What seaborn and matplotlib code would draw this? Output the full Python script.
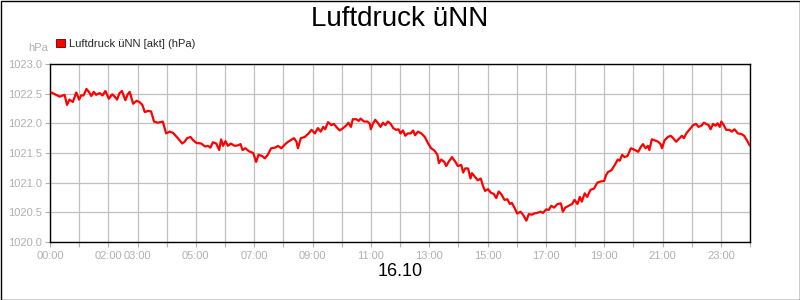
import matplotlib
matplotlib.use("Agg")
import matplotlib.pyplot as plt
import seaborn as sns
import pandas as pd
from matplotlib.patches import Patch, Rectangle

# ---- data (minutes after midnight, hPa) ----
minutes = [3, 10, 20, 30, 35, 40, 47, 54, 60, 64, 69, 75, 80, 85, 90, 95, 102, 108, 114, 121,
           128, 133, 138, 143, 148, 155, 160, 164, 171, 178, 184, 190, 195, 202, 208, 214, 222, 232, 239, 246,
           253, 263, 272, 277, 282, 289, 294, 301, 311, 319, 325, 330, 335, 342, 348, 352, 356, 361, 366, 372,
           380, 387, 392, 396, 402, 409, 418, 424, 429, 436, 442, 448, 455, 463, 469, 476, 484, 490, 496, 502,
           507, 510, 516, 524, 532, 538, 545, 551, 557, 562, 566, 572, 579, 584, 589, 596, 603, 609, 614, 619,
           623, 630, 635, 639, 646, 653, 658, 660, 664, 669, 675, 680, 685, 690, 695, 701, 706, 712, 717, 721,
           726, 731, 736, 742, 747, 751, 757, 764, 771, 778, 784, 791, 797, 800, 805, 811, 815, 820, 827, 834,
           839, 846, 850, 854, 860, 865, 868, 874, 880, 886, 891, 895, 901, 907, 913, 918, 923, 928, 935, 941,
           946, 950, 956, 961, 968, 973, 980, 985, 991, 996, 1002, 1009, 1014, 1021, 1026, 1031, 1037, 1044, 1051, 1055,
           1060, 1067, 1074, 1079, 1085, 1090, 1094, 1100, 1105, 1112, 1119, 1126, 1133, 1140, 1144, 1148, 1155, 1162, 1168, 1172,
           1177, 1182, 1188, 1195, 1201, 1210, 1216, 1220, 1225, 1230, 1233, 1238, 1245, 1251, 1256, 1259, 1264, 1271, 1277, 1282,
           1288, 1295, 1300, 1304, 1309, 1316, 1323, 1329, 1334, 1340, 1345, 1350, 1355, 1359, 1364, 1369, 1373, 1378, 1381, 1386,
           1391, 1398, 1403, 1408, 1415, 1422, 1428, 1434, 1440]
pressure = [1022.52, 1022.49, 1022.45, 1022.48, 1022.31, 1022.40, 1022.36, 1022.52, 1022.40, 1022.47,
            1022.47, 1022.58, 1022.53, 1022.46, 1022.53, 1022.48, 1022.51, 1022.47, 1022.545, 1022.415,
            1022.49, 1022.45, 1022.40, 1022.51, 1022.545, 1022.39, 1022.49, 1022.53, 1022.33, 1022.38,
            1022.36, 1022.31, 1022.19, 1022.21, 1022.20, 1022.03, 1022.01, 1022.03, 1021.83, 1021.86,
            1021.84, 1021.75, 1021.66, 1021.69, 1021.75, 1021.77, 1021.72, 1021.67, 1021.66, 1021.61,
            1021.62, 1021.59, 1021.68, 1021.66, 1021.55, 1021.73, 1021.62, 1021.70, 1021.62, 1021.66,
            1021.62, 1021.63, 1021.65, 1021.55, 1021.58, 1021.53, 1021.50, 1021.35, 1021.47, 1021.45,
            1021.41, 1021.47, 1021.58, 1021.59, 1021.62, 1021.58, 1021.65, 1021.69, 1021.72, 1021.75,
            1021.69, 1021.58, 1021.75, 1021.77, 1021.83, 1021.89, 1021.83, 1021.92, 1021.86, 1021.94,
            1021.90, 1022.02, 1021.97, 1021.99, 1021.94, 1021.88, 1021.92, 1021.96, 1022.01, 1021.94,
            1022.07, 1022.07, 1022.04, 1022.08, 1022.03, 1022.03, 1021.99, 1021.90, 1021.99, 1022.06,
            1022.00, 1021.94, 1022.01, 1021.97, 1022.03, 1021.99, 1021.92, 1021.89, 1021.90, 1021.83,
            1021.88, 1021.79, 1021.83, 1021.83, 1021.88, 1021.80, 1021.86, 1021.83, 1021.77, 1021.66,
            1021.58, 1021.54, 1021.47, 1021.33, 1021.39, 1021.35, 1021.28, 1021.35, 1021.43, 1021.35,
            1021.28, 1021.30, 1021.17, 1021.24, 1021.24, 1021.07, 1021.16, 1021.10, 1021.04, 1021.07,
            1020.94, 1020.86, 1020.89, 1020.83, 1020.81, 1020.74, 1020.85, 1020.81, 1020.71, 1020.72,
            1020.64, 1020.66, 1020.57, 1020.48, 1020.51, 1020.46, 1020.36, 1020.47, 1020.46, 1020.48,
            1020.49, 1020.51, 1020.49, 1020.55, 1020.54, 1020.61, 1020.58, 1020.64, 1020.65, 1020.51,
            1020.58, 1020.61, 1020.64, 1020.71, 1020.64, 1020.76, 1020.68, 1020.82, 1020.76, 1020.88,
            1020.90, 1021.00, 1021.02, 1021.03, 1021.13, 1021.18, 1021.21, 1021.30, 1021.39, 1021.37,
            1021.47, 1021.43, 1021.45, 1021.58, 1021.56, 1021.52, 1021.61, 1021.65, 1021.58, 1021.62,
            1021.55, 1021.73, 1021.71, 1021.69, 1021.65, 1021.58, 1021.71, 1021.77, 1021.79, 1021.75,
            1021.69, 1021.75, 1021.79, 1021.75, 1021.83, 1021.90, 1021.97, 1021.99, 1021.94, 1021.96,
            1022.01, 1021.99, 1021.97, 1021.90, 1021.99, 1021.96, 1022.00, 1021.94, 1022.03, 1021.97,
            1021.89, 1021.89, 1021.86, 1021.90, 1021.83, 1021.82, 1021.79, 1021.71, 1021.62]

hour_ticks = list(range(0, 25))
hour_labels = ["00:00", "", "02:00", "03:00", "", "05:00", "", "07:00", "", "09:00", "", "11:00", "",
               "13:00", "", "15:00", "", "17:00", "", "19:00", "", "21:00", "", "23:00", ""]
y_ticks = [1020.0, 1020.5, 1021.0, 1021.5, 1022.0, 1022.5, 1023.0]

title = "Luftdruck üNN"
series_name = "Luftdruck üNN [akt] (hPa)"
unit = "hPa"
date_label = "16.10"

# ---- plot ----
sns.set_theme(style="white")
plt.rcParams["font.family"] = ["Liberation Sans", "DejaVu Sans"]

df = pd.DataFrame({"min": minutes, "p": pressure})

fig = plt.figure(figsize=(8, 3), dpi=100)
fig.patch.set_facecolor("white")
ax = fig.add_axes([50 / 800, 1 - 242 / 300, 700 / 800, 178 / 300])

sns.lineplot(data=df, x="min", y="p", ax=ax, color="#ff0000", linewidth=1.6, zorder=3)

ax.set_xlim(0, 1440)
ax.set_ylim(1020.0, 1023.0)
ax.set_xticks([h * 60 for h in hour_ticks])
ax.set_xticklabels(hour_labels)
ax.set_yticks(y_ticks)
ax.set_yticklabels([f"{v:.1f}" for v in y_ticks])
ax.set_xlabel("")
ax.set_ylabel("")

grid_c = "#c0c0c0"
ax.grid(True, color=grid_c, linewidth=0.9, zorder=1)
ax.set_axisbelow(True)
for s in ax.spines.values():
    s.set_color("black")
    s.set_linewidth(1.0)
    s.set_visible(True)

ax.tick_params(axis="both", which="both", direction="out", length=3.5, width=0.8,
               color="#b0b0b0", labelcolor="#b0b0b0", labelsize=8, pad=2,
               bottom=True, left=True)
ax.tick_params(axis="x", pad=3)

# title and labels
fig.text(0.5, 1 - 19 / 300, title, ha="center", va="center", fontsize=20, color="black")
fig.text(0.5, 1 - 272 / 300, date_label, ha="center", va="center", fontsize=13, color="black")
fig.text(48 / 800, 1 - 48 / 300, unit, ha="right", va="center", fontsize=8, color="#b0b0b0")

# legend
handle = Patch(facecolor="#ff0000", edgecolor="#600000", linewidth=0.6, label=series_name)
fig.legend(handles=[handle], loc="center left", bbox_to_anchor=(56 / 800, 1 - 44 / 300),
           frameon=False, fontsize=8, handlelength=0.8, handleheight=0.8,
           handletextpad=0.4, borderaxespad=0, borderpad=0)

# outer image border
fig.patches.append(Rectangle((0.5 / 800, 0.5 / 300), 799 / 800, 299 / 300,
                             transform=fig.transFigure, fill=False,
                             edgecolor="black", linewidth=1.0))

fig.savefig("out.png", dpi=100)
